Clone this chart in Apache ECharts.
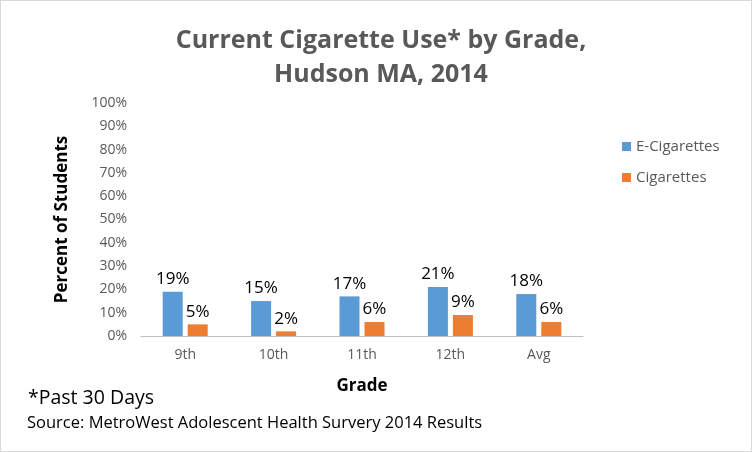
<!DOCTYPE html>
<html><head><meta charset="utf-8">
<script src="https://cdn.jsdelivr.net/npm/echarts@6/dist/echarts.min.js"></script>
<style>html,body{margin:0;padding:0;background:#fff}#c{width:750px;height:450px;border:1px solid #d9d9d9}</style>
</head><body><div id="c"></div>
<script>
const categories = ['9th','10th','11th','12th','Avg'];
const eCigs = [19,15,17,21,18];
const cigs = [5,2,6,9,6];
const yTicks = [0,10,20,30,40,50,60,70,80,90,100];
const F = '"Open Sans", sans-serif';
const chart = echarts.init(document.getElementById('c'));
const lbl = {show:true,position:'top',formatter:'{c}%',fontSize:17,color:'#000',fontFamily:F,distance:4};
chart.setOption({
  animation:false,
  title:{text:'Current Cigarette Use* by Grade,\nHudson MA, 2014',left:375,top:18,textAlign:'center',
    textStyle:{fontSize:25,fontWeight:'bold',color:'#595959',fontFamily:F,lineHeight:34}},
  legend:{orient:'vertical',left:616,top:133,itemGap:16,itemWidth:9,itemHeight:9,icon:'rect',
    textStyle:{fontSize:15,color:'#595959',fontFamily:F}},
  grid:{left:140,right:168,top:102,bottom:115,containLabel:false},
  xAxis:{type:'category',data:categories,name:'Grade',nameLocation:'middle',nameGap:42,
    nameTextStyle:{fontSize:17,fontWeight:'bold',color:'#000',fontFamily:F},
    axisLine:{lineStyle:{color:'#bfbfbf'}},axisTick:{show:false},
    axisLabel:{fontSize:14,color:'#595959',fontFamily:F,margin:12}},
  yAxis:{type:'value',min:0,max:100,interval:10,name:'Percent of Students',nameLocation:'middle',nameGap:70,
    nameTextStyle:{fontSize:17,fontWeight:'bold',color:'#000',fontFamily:F},
    axisLabel:{formatter:v=>yTicks.includes(v)?v+'%':'',fontSize:14,color:'#595959',fontFamily:F,margin:14},
    splitLine:{show:false},axisLine:{show:false},axisTick:{show:false}},
  series:[
    {name:'E-Cigarettes',type:'bar',data:eCigs,barWidth:20,barGap:'25%',itemStyle:{color:'#5b9bd5'},label:lbl},
    {name:'Cigarettes',type:'bar',data:cigs,barWidth:20,itemStyle:{color:'#ed7d31'},label:lbl}
  ],
  graphic:[
    {type:'text',left:27,top:387,style:{text:'*Past 30 Days',fontSize:19.5,fill:'#000',fontFamily:F}},
    {type:'text',left:26,top:414,style:{text:'Source: MetroWest Adolescent Health Survery 2014 Results',fontSize:16.5,fill:'#000',fontFamily:F}}
  ]
});
</script></body></html>
